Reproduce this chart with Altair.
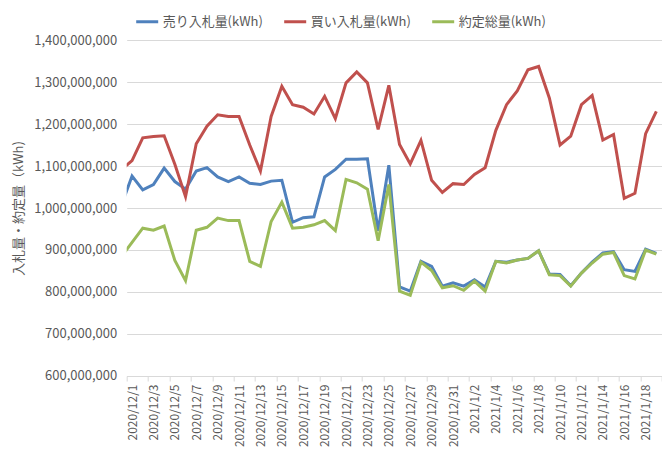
import altair as alt
import pandas as pd

# dates (first one lies just outside the axis and is clipped)
dates = ["2020-11-30"] + [f"2020-12-{d:02d}" for d in range(1, 32)] + [f"2021-01-{d:02d}" for d in range(1, 20)]

# values in millions of kWh
sell = [1006,
        1076, 1043, 1056, 1095, 1063, 1045, 1088, 1096, 1074, 1063, 1074, 1059, 1056, 1064, 1066, 966, 977,
        979, 1074, 1092, 1116, 1116, 1117, 946, 1102, 812, 802, 873, 861, 814, 822, 814, 829,
        812, 873, 871, 876, 880, 898, 843, 842, 815, 845, 871, 893, 896, 853, 849, 902, 892]
buy = [1091,
       1113, 1167, 1170, 1172, 1104, 1027, 1153, 1195, 1222, 1218, 1218, 1150, 1088, 1218, 1290, 1246, 1240,
       1224, 1266, 1213, 1298, 1324, 1298, 1187, 1292, 1151, 1105, 1161, 1066, 1037, 1058, 1056, 1080,
       1096, 1185, 1246, 1279, 1329, 1337, 1262, 1150, 1171, 1246, 1268, 1162, 1175, 1023, 1035, 1177, 1230]
matched = [884,
           918, 952, 947, 957, 875, 827, 947, 954, 976, 970, 970, 873, 861, 968, 1014, 952, 954,
           960, 970, 946, 1068, 1060, 1045, 922, 1056, 802, 792, 871, 851, 810, 815, 804, 826,
           802, 873, 869, 876, 880, 898, 841, 839, 814, 845, 869, 890, 894, 839, 831, 900, 890]

series_names = ["売り入札量(kWh)", "買い入札量(kWh)", "約定総量(kWh)"]
colors = ["#4F81BD", "#C0504D", "#9BBB59"]
y_ticks = [600000000, 700000000, 800000000, 900000000, 1000000000,
           1100000000, 1200000000, 1300000000, 1400000000]

rows = []
for name, vals in zip(series_names, [sell, buy, matched]):
    for d, v in zip(dates, vals):
        rows.append({"date": d + "T12:00:00", "series": name, "value": v * 1000000})
df = pd.DataFrame(rows)


def dt(s):
    y, m, d = (int(p) for p in s.split("-"))
    return alt.DateTime(year=y, month=m, date=d)


tick_dates = dates[1::2] + ["2021-01-20"]
tick_vals = [dt(s) for s in tick_dates]

FONT = "Noto Sans CJK JP"
W = 535
H = 336
half_day = W / 50 / 2

chart = alt.Chart(df).mark_line(strokeWidth=3, clip=True).encode(
    x=alt.X(
        "date:T",
        scale=alt.Scale(domain=[dt("2020-12-01"), dt("2021-01-20")], nice=False),
        axis=alt.Axis(
            values=tick_vals,
            labelExpr="datum.value > datetime(2021, 0, 19) ? '' : timeFormat(datum.value, '%Y/%-m/%-d')",
            labelAngle=270,
            labelOffset=half_day,
            title=None,
            grid=False,
            domainColor="#d9d9d9",
            tickColor="#d9d9d9",
            tickSize=5,
            labelPadding=3,
            labelColor="#595959",
            labelFontSize=12,
            labelFont=FONT,
            labelOverlap=False,
        ),
    ),
    y=alt.Y(
        "value:Q",
        scale=alt.Scale(domain=[600000000, 1400000000], nice=False, zero=False),
        axis=alt.Axis(
            values=y_ticks,
            format=",d",
            title="入札量・約定量（kWh)",
            titleFont=FONT,
            titleFontSize=13,
            titleFontWeight="normal",
            titleColor="#595959",
            titlePadding=8,
            labelFont=FONT,
            labelFontSize=13,
            labelColor="#595959",
            labelPadding=10,
            ticks=False,
            domain=False,
            gridColor="#d9d9d9",
            gridWidth=1,
        ),
    ),
    color=alt.Color(
        "series:N",
        scale=alt.Scale(domain=series_names, range=colors),
        legend=alt.Legend(
            title=None,
            orient="none",
            legendX=8,
            legendY=-31,
            direction="horizontal",
            symbolType="stroke",
            symbolStrokeWidth=3,
            symbolSize=484,
            labelFont=FONT,
            labelFontSize=13,
            labelColor="#595959",
            columnPadding=14,
            labelOffset=3,
        ),
    ),
).properties(
    width=W,
    height=H,
    autosize=alt.AutoSizeParams(type="none"),
    padding={"left": 118.7, "top": 32, "right": 0, "bottom": 74},
).configure_view(strokeWidth=0)

chart.save("out.html", embed_options={"renderer": "svg", "actions": False})
